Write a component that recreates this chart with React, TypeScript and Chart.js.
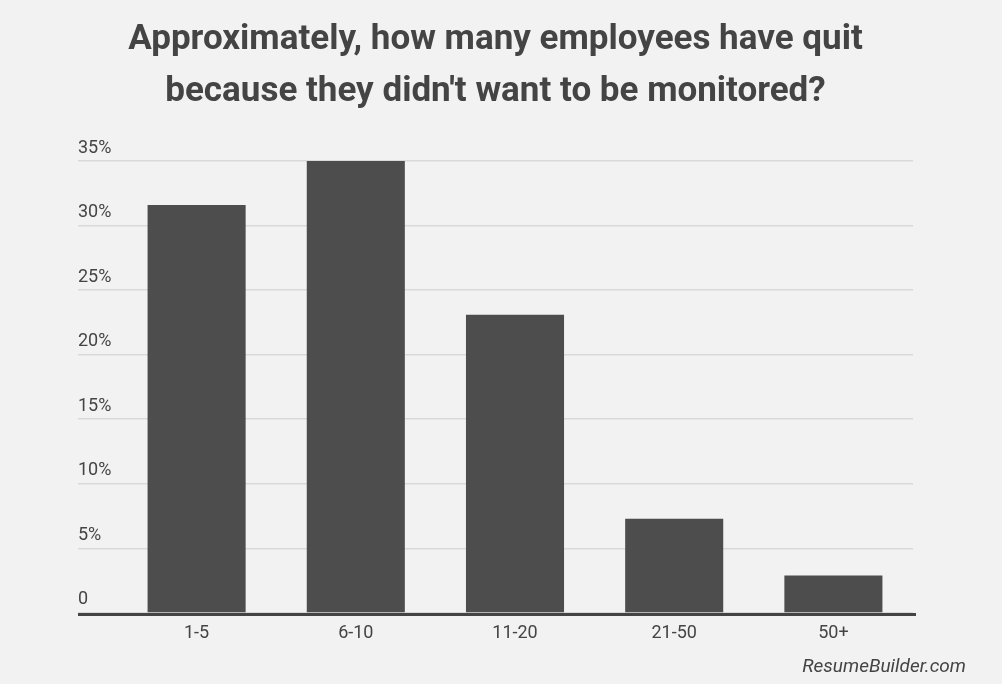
import React, { useEffect, useRef } from "react";
import { Chart, registerables } from "chart.js";

Chart.register(...registerables);

const titleLines = [
  "Approximately, how many employees have quit",
  "because they didn't want to be monitored?",
];
const categories = ["1-5", "6-10", "11-20", "21-50", "50+"];
const shareValues = [31.6, 35.0, 23.1, 7.3, 2.9];
const yTickValues = [0, 5, 10, 15, 20, 25, 30, 35];
const sourceLabel = "ResumeBuilder.com";

const FONT = "Roboto, 'Noto Sans', sans-serif";

const baselinePlugin = {
  id: "baseline",
  afterDatasetsDraw(chart: any) {
    const { ctx } = chart;
    const y = chart.scales.y;
    const x = chart.scales.x;
    const py = y.getPixelForValue(0);
    ctx.save();
    ctx.strokeStyle = "#444444";
    ctx.lineWidth = 3;
    ctx.beginPath();
    ctx.moveTo(y.left, py + 1.5);
    ctx.lineTo(x.right + 3, py + 1.5);
    ctx.stroke();
    ctx.restore();
  },
};

const footerPlugin = {
  id: "footer",
  afterDraw(chart: any) {
    const { ctx } = chart;
    ctx.save();
    ctx.font = `italic 19px ${FONT}`;
    ctx.fillStyle = "#444444";
    ctx.textAlign = "right";
    ctx.textBaseline = "alphabetic";
    ctx.fillText(sourceLabel, 966, 672);
    ctx.restore();
  },
};

export default function App() {
  const canvasRef = useRef<HTMLCanvasElement | null>(null);

  useEffect(() => {
    if (!canvasRef.current) return;
    const chart = new Chart(canvasRef.current, {
      type: "bar",
      data: {
        labels: categories,
        datasets: [
          {
            data: shareValues,
            backgroundColor: "#4d4d4d",
            borderWidth: 0,
            categoryPercentage: 1,
            barPercentage: 0.616,
          },
        ],
      },
      options: {
        animation: false,
        responsive: false,
        devicePixelRatio: 1,
        layout: { padding: { left: 78, right: 89, top: 0, bottom: 30.5 } },
        plugins: {
          legend: { display: false },
          tooltip: { enabled: false },
          title: {
            display: true,
            text: titleLines,
            color: "#444444",
            font: { family: FONT, size: 35, weight: "bold", lineHeight: 1.486 },
            padding: { top: 14, bottom: 43 },
          },
        },
        scales: {
          x: {
            grid: { display: false, drawTicks: false },
            border: { display: false },
            ticks: {
              color: "#444444",
              font: { family: FONT, size: 18 },
              padding: 9.5,
            },
          },
          y: {
            min: 0,
            max: 35,
            afterBuildTicks(scale: any) {
              scale.ticks = yTickValues.map((v) => ({ value: v }));
            },
            afterFit(scale: any) {
              scale.width = 39;
            },
            grid: {
              color: "#d9d9d9",
              lineWidth: 1.5,
              drawTicks: true,
              tickLength: 39,
            },
            border: { display: false },
            ticks: {
              mirror: true,
              padding: -39,
              crossAlign: "near",
              labelOffset: -13,
              color: "#444444",
              font: { family: FONT, size: 18 },
              callback: (v: any) => (Number(v) === 0 ? "0" : `${v}%`),
            },
          },
        },
      },
      plugins: [baselinePlugin, footerPlugin],
    });
    return () => chart.destroy();
  }, []);

  return (
    <div
      style={{
        position: "absolute",
        left: 0,
        top: 0,
        width: 1002,
        height: 684,
        background: "#f2f2f2",
      }}
    >
      <canvas ref={canvasRef} width={1002} height={684} />
    </div>
  );
}
